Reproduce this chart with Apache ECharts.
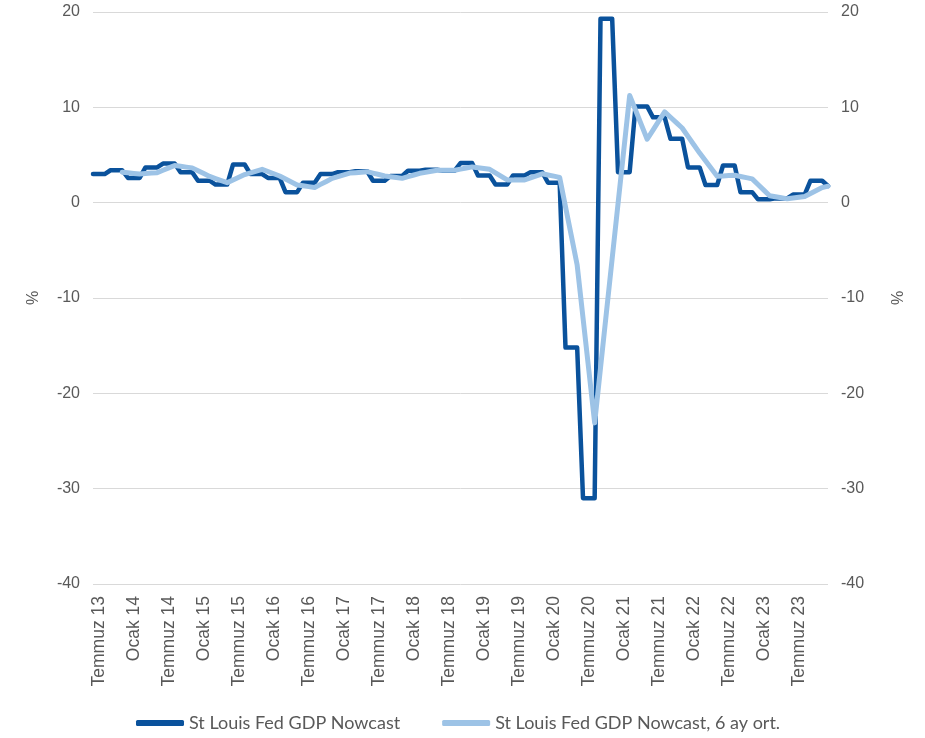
<!DOCTYPE html>
<html>
<head>
<meta charset="utf-8">
<script src="https://cdn.jsdelivr.net/npm/echarts@6/dist/echarts.min.js"></script>
<style>
html,body{margin:0;padding:0;background:#fff;}
#c{width:925px;height:738px;}
</style>
</head>
<body>
<div id="c"></div>
<script>
// Month names (Turkish) used for category labels; data runs Haziran 2013 .. Aralık 2023
const monthNames = ['Ocak','Şubat','Mart','Nisan','Mayıs','Haziran','Temmuz','Ağustos','Eylül','Ekim','Kasım','Aralık'];
const categories = [];
for (let y = 2013; y <= 2023; y++) {
  for (let m = 0; m < 12; m++) {
    if (y === 2013 && m < 5) continue;
    categories.push(monthNames[m] + ' ' + String(y).slice(2));
  }
}

const seriesNames = ['St Louis Fed GDP Nowcast', 'St Louis Fed GDP Nowcast, 6 ay ort.'];

// St Louis Fed GDP Nowcast (monthly, %)
const nowcast = [
  3.0,3.0,3.0, 3.4,3.4,3.4, 2.6,2.6,2.6, 3.7,3.7,3.7, 4.1,4.1,4.1, 3.2,3.2,3.2,
  2.3,2.3,2.3, 1.9,1.9,1.9, 4.0,4.0,4.0, 3.0,3.0,3.0, 2.6,2.6,2.6, 1.1,1.1,1.1,
  2.1,2.1,2.1, 3.0,3.0,3.0, 3.2,3.2,3.2, 3.3,3.3,3.3, 2.3,2.3,2.3, 2.8,2.8,2.8,
  3.35,3.35,3.35, 3.45,3.45,3.45, 3.35,3.35,3.35, 4.15,4.15,4.15, 2.85,2.85,2.85, 1.9,1.9,1.9,
  2.85,2.85,2.85, 3.2,3.2,3.2, 2.1,2.1,2.1, -15.2,-15.2,-15.2, -31.0,-31.0,-31.0, 19.3,19.3,19.3,
  3.2,3.2,3.2, 10.1,10.1,10.1, 8.95,8.95,8.95, 6.7,6.7,6.7, 3.7,3.7,3.7, 1.85,1.85,1.85,
  3.9,3.9,3.9, 1.1,1.1,1.1, 0.35,0.35,0.35, 0.45,0.45,0.45, 0.85,0.85,0.85, 2.3,2.3,2.3,
  1.75
];

// 6-month average (monthly, %)
const nowcastAvg = [
  null,null,null,null,null,
  3.2,3.13,3.07,3.0,3.05,3.1,3.15,3.4,3.65,3.9,3.82,3.73,3.65,3.35,3.05,
  2.75,2.53,2.32,2.1,2.38,2.67,2.95,3.13,3.32,3.5,3.27,3.03,2.8,2.48,2.17,
  1.85,1.77,1.68,1.6,1.92,2.23,2.55,2.73,2.92,3.1,3.15,3.2,3.25,3.1,2.95,
  2.8,2.72,2.63,2.55,2.73,2.9,3.08,3.18,3.29,3.4,3.4,3.4,3.4,3.52,3.63,
  3.75,3.67,3.58,3.5,3.13,2.75,2.38,2.38,2.38,2.38,2.59,2.81,3.03,2.9,2.78,
  2.65,-0.42,-3.48,-6.55,-12.07,-17.58,-23.1,-17.35,-11.6,-5.85,-0.15,5.55,11.25,9.72,8.18,
  6.65,7.61,8.57,9.53,8.96,8.39,7.83,6.95,6.08,5.2,4.39,3.58,2.78,2.81,2.84,
  2.88,2.75,2.63,2.5,1.91,1.32,0.73,0.62,0.51,0.4,0.48,0.57,0.65,0.96,1.27,
  1.58,1.73
];

const yTicks = { min: -40, max: 20, interval: 10 };

const textColor = '#595959';
const gridColor = '#d9d9d9';
const darkBlue = '#0a529c';
const lightBlue = '#9dc3e6';
const tickFont = 'Liberation Sans';

const chart = echarts.init(document.getElementById('c'), null, { renderer: 'canvas' });

function yAxisDef(pos, gap) {
  return {
    type: 'value',
    position: pos,
    min: yTicks.min, max: yTicks.max, interval: yTicks.interval,
    name: '%',
    nameLocation: 'middle',
    nameGap: gap,
    nameRotate: 90,
    nameTextStyle: { color: textColor, fontSize: 16, fontFamily: tickFont },
    axisLine: { show: false },
    axisTick: { show: false },
    axisLabel: { color: textColor, fontSize: 16, fontFamily: tickFont, margin: 13 },
    splitLine: { show: pos === 'left', lineStyle: { color: gridColor, width: 1 } }
  };
}

chart.setOption({
  animation: false,
  backgroundColor: '#ffffff',
  grid: { left: 93, right: 97, top: 12, bottom: 154, containLabel: false },
  legend: {
    bottom: 1,
    left: 131,
    itemWidth: 48,
    itemHeight: 6,
    itemGap: 42,
    icon: 'roundRect',
    textStyle: { color: textColor, fontSize: 18, fontFamily: 'Lato' },
    data: seriesNames
  },
  xAxis: {
    type: 'category',
    data: categories,
    boundaryGap: false,
    axisLine: { show: false },
    axisTick: { show: false },
    splitLine: { show: false },
    axisLabel: {
      color: textColor,
      fontSize: 17.5,
      fontFamily: tickFont,
      rotate: 90,
      margin: 12,
      interval: function (idx, val) {
        return val.indexOf('Ocak') === 0 || val.indexOf('Temmuz') === 0;
      }
    }
  },
  yAxis: [yAxisDef('left', 51), yAxisDef('right', 63)],
  series: [
    {
      name: seriesNames[0],
      type: 'line',
      data: nowcast,
      yAxisIndex: 0,
      showSymbol: false,
      symbol: 'none',
      lineStyle: { color: darkBlue, width: 4.5, cap: 'round', join: 'round' },
      itemStyle: { color: darkBlue },
      z: 2
    },
    {
      name: seriesNames[1],
      type: 'line',
      data: nowcastAvg,
      yAxisIndex: 0,
      showSymbol: false,
      symbol: 'none',
      connectNulls: false,
      lineStyle: { color: lightBlue, width: 5, cap: 'round', join: 'round' },
      itemStyle: { color: lightBlue },
      z: 3
    }
  ]
});
</script>
</body>
</html>
